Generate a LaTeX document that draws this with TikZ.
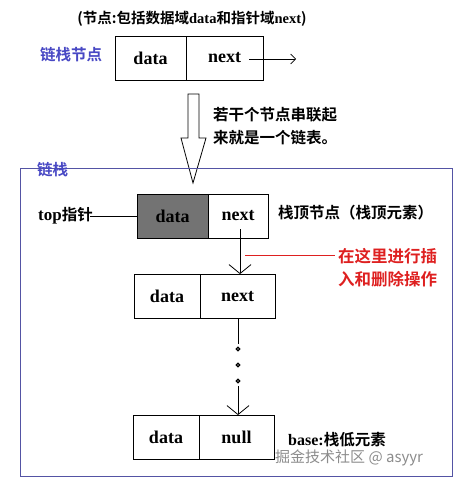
\documentclass[tikz,border=0pt]{standalone}
\usepackage{fontspec}
\setmainfont{Liberation Serif}
\newfontfamily\cjk{Noto Sans CJK SC}[BoldFont={Noto Sans CJK SC Bold}]
\usetikzlibrary{arrows.meta}
\definecolor{framebl}{RGB}{84,84,164}
\definecolor{labelbl}{RGB}{72,72,196}
\definecolor{insred}{RGB}{222,32,32}
\tikzset{
  cell/.style={draw,line width=0.8pt,minimum height=44pt,inner sep=0pt,
    font=\bfseries\fontsize{18}{18}\selectfont},
  barb/.style={-{Straight Barb[length=9pt,width=22pt]}},
  cjktext/.style={inner sep=0pt,font=\cjk\bfseries\fontsize{15.5}{17}\selectfont},
  dot/.style={draw,line width=1.2pt,fill=white},
}
\begin{document}
\begin{tikzpicture}[x=1pt,y=-1pt]
\useasboundingbox (0,0) rectangle (472,487);
% the single node
\node[cjktext,font=\cjk\bfseries\fontsize{14.5}{16}\selectfont] (title) at (192,19)
  {(节点:包括数据域\textrm{\bfseries data}和指针域\textrm{\bfseries next})};
\node[cjktext,text=labelbl,anchor=west] (nodelbl) at (40,55) {链栈节点};
\node[cell,minimum width=71pt] (d0) at (150.5,58) {data};
\node[cell,minimum width=77pt] (n0) at (224.5,58) {next};
\coordinate (n0start) at (249,59);
\coordinate (n0end) at (296,59);
\draw[line width=0.6pt,-{Straight Barb[length=5pt,width=10pt]}] (n0start) -- (n0end);
% hollow arrow: nodes chained together
\draw[line width=0.8pt,fill=white] (188,94) -- (199,94) -- (199,138) -- (206,138) -- (193,183)
  -- (181,138) -- (188,138) -- cycle;
\node[cjktext,anchor=west] (chain1) at (213,115) {若干个节点串联起};
\node[cjktext,anchor=west] (chain2) at (213,138) {来就是一个链表。};
% the linked stack
\draw[framebl,line width=1pt] (20,168) rectangle (452,476);
\node[cjktext,text=labelbl,anchor=west] (stacklbl) at (37,170) {链栈};
\node[cell,minimum width=71pt,fill=black!55] (d1) at (172.5,216) {data};
\node[cell,minimum width=60pt] (n1) at (238,216) {next};
\node[cjktext,anchor=east] (toplbl) at (93,216) {\textrm{\bfseries\fontsize{17}{17}\selectfont top}指针};
\coordinate (topstart) at (90,216);
\draw[line width=0.8pt] (topstart) -- (d1.west);
\node[cjktext,anchor=west] (toptxt) at (278,213) {栈顶节点（栈顶元素）};
\node[cell,minimum width=66pt] (d2) at (167,296.5) {data};
\node[cell,minimum width=75pt] (n2) at (237.5,296.5) {next};
\coordinate (n1ptr) at (240,229);
\draw[barb,line width=0.8pt] (n1ptr) -- (n1ptr |- n2.north);
\coordinate (redstart) at (245,255);
\coordinate (redend) at (335,255);
\draw[insred,line width=0.8pt] (redstart) -- (redend);
\node[cjktext,text=insred,anchor=west,font=\cjk\bfseries\fontsize{16.5}{18}\selectfont] (ins1) at (338,256) {在这里进行插};
\node[cjktext,text=insred,anchor=west,font=\cjk\bfseries\fontsize{16.5}{18}\selectfont] (ins2) at (338,279) {入和删除操作};
\node[cell,minimum width=66pt] (d3) at (166,437.5) {data};
\node[cell,minimum width=75pt] (n3) at (236.5,437.5) {null};
\coordinate (gapstart) at (238,344);
\coordinate (gapend) at (238,386);
\draw[line width=0.8pt] (n2.south -| gapstart) -- (gapstart);
\foreach \y in {349,365,381} \draw[dot] (238,\y) circle (1.8);
\draw[barb,line width=0.8pt] (gapend) -- (gapend |- n3.north);
\node[cjktext,anchor=west] (baselbl) at (288,440) {\textrm{\bfseries\fontsize{16}{16}\selectfont base:}栈低元素};
% watermark
\node[cjktext,text=black!45,anchor=west,font=\cjk\fontsize{15}{17}\selectfont] (mark) at (275,458) {掘金技术社区 @ asyyr};
\end{tikzpicture}
\end{document}
